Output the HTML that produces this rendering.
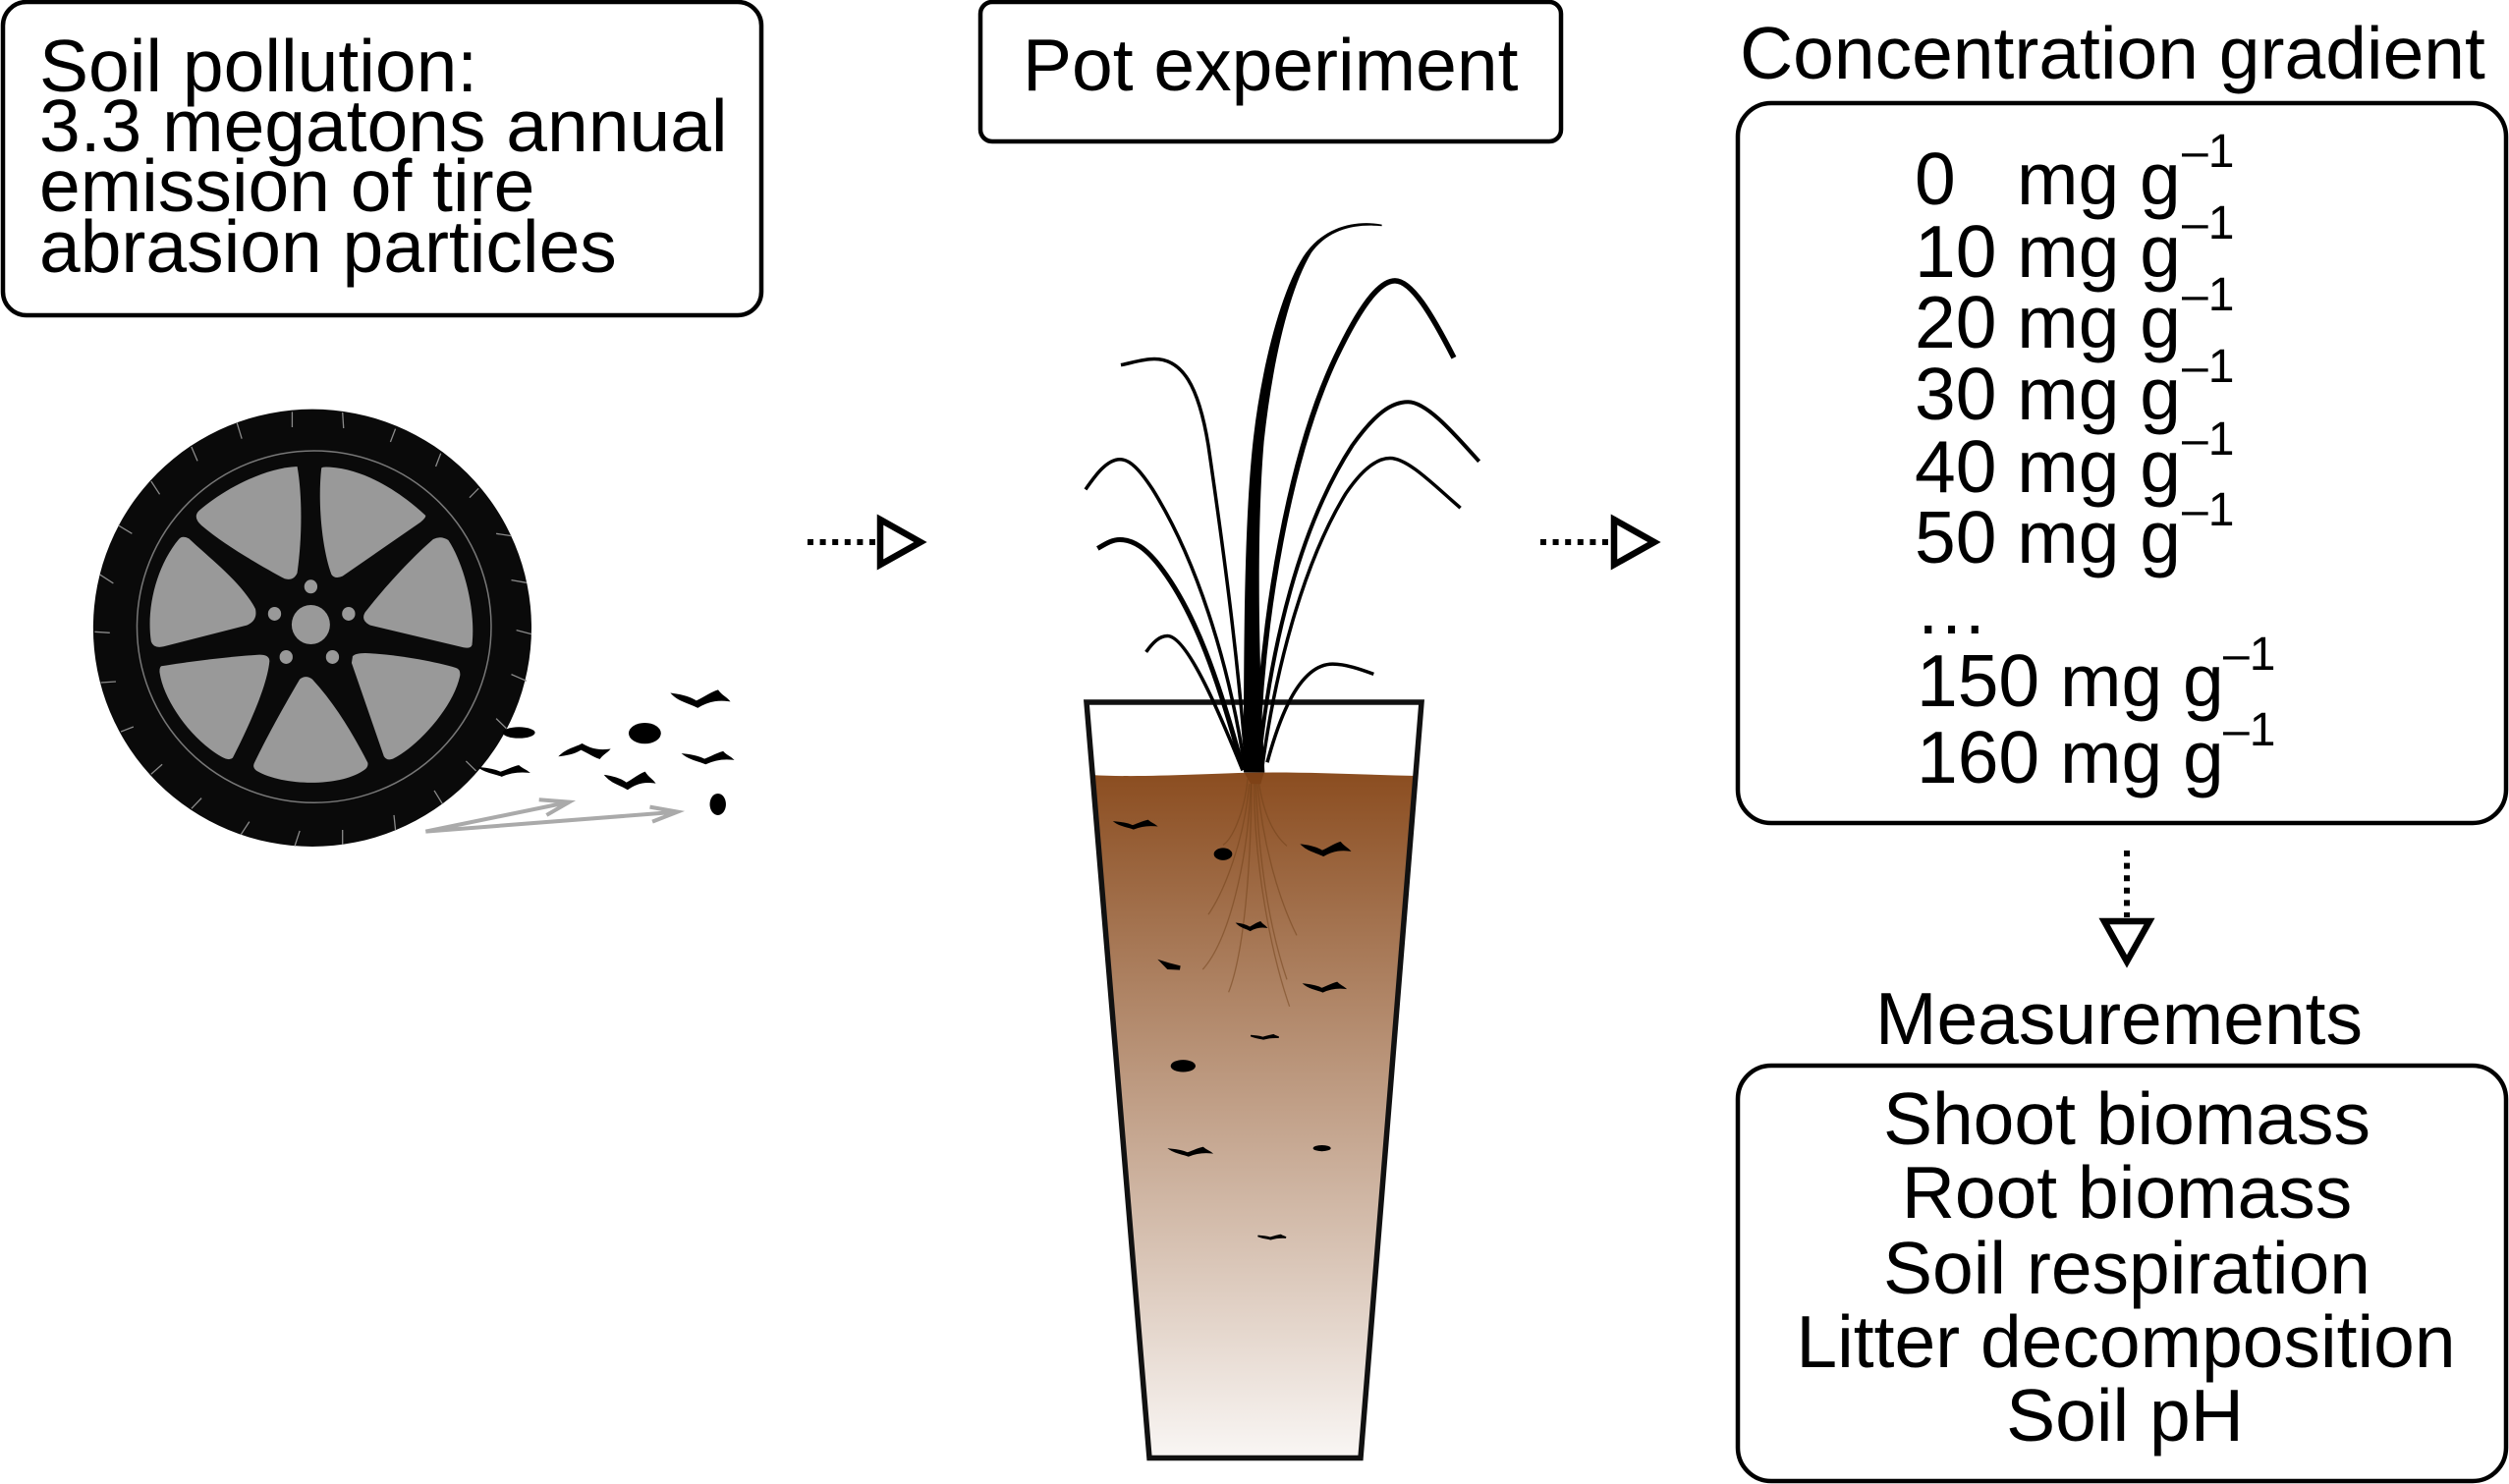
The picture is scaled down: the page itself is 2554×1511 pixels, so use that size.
<!DOCTYPE html>
<html><head><meta charset="utf-8"><title>Tire abrasion particles pot experiment</title>
<style>html,body{margin:0;padding:0;background:#fff}svg{display:block}
text{font-family:"Liberation Sans",sans-serif;fill:#000;font-size:75px}
.s{font-size:48px}
.n{vector-effect:non-scaling-stroke;fill:none}
</style></head><body>
<svg xmlns="http://www.w3.org/2000/svg" width="2554" height="1511" viewBox="0 0 2554 1511">
<defs>
<linearGradient id="soil" x1="0" y1="0" x2="0" y2="1"><stop offset="0" stop-color="#8b4d20"/><stop offset="1" stop-color="#f9f6f4"/></linearGradient>
<path id="bat" stroke="#000" stroke-width="1.6" style="vector-effect:non-scaling-stroke" d="M-55,-15 C-40,-12 -20,-5 -8,8 C5,0 20,-18 35,-25 C42,-10 50,-5 56,5 C40,2 20,2 -5,25 C-20,12 -40,8 -55,-15Z"/>
</defs>

<!-- boxes -->
<g fill="none" stroke="#000" stroke-width="4.5">
<rect x="3" y="2" width="772" height="319" rx="24"/>
<rect x="998" y="2" width="591" height="142" rx="12"/>
<rect x="1769" y="105" width="782" height="733" rx="34"/>
<rect x="1769" y="1085" width="782" height="423" rx="34"/>
</g>

<!-- box text -->
<text x="40" y="93">Soil pollution:</text>
<text x="40" y="154">3.3 megatons annual</text>
<text x="40" y="215">emission of tire</text>
<text x="40" y="277">abrasion particles</text>
<text x="1041" y="92">Pot experiment</text>
<text x="1771" y="80">Concentration gradient</text>

<text x="1949" y="208">0</text><text x="2053" y="208">mg g</text><text class="s" x="2221" y="170">–1</text>
<text x="1949" y="282">10 mg g</text><text class="s" x="2221" y="243">–1</text>
<text x="1949" y="354">20 mg g</text><text class="s" x="2221" y="316">–1</text>
<text x="1949" y="427">30 mg g</text><text class="s" x="2221" y="389">–1</text>
<text x="1949" y="501">40 mg g</text><text class="s" x="2221" y="463">–1</text>
<text x="1949" y="573">50 mg g</text><text class="s" x="2221" y="535">–1</text>
<text x="1949" y="645">…</text>
<text x="1951" y="719">150 mg g</text><text class="s" x="2263" y="682">–1</text>
<text x="1951" y="797">160 mg g</text><text class="s" x="2263" y="759">–1</text>

<text x="2157" y="1063" text-anchor="middle">Measurements</text>
<text x="2165" y="1165" text-anchor="middle">Shoot biomass</text>
<text x="2165" y="1240" text-anchor="middle">Root biomass</text>
<text x="2165" y="1317" text-anchor="middle">Soil respiration</text>
<text x="2164" y="1392" text-anchor="middle">Litter decomposition</text>
<text x="2163" y="1467" text-anchor="middle">Soil pH</text>

<!-- dotted arrows -->
<g fill="none" stroke="#000" stroke-width="6">
<path d="M822,552H892" stroke-dasharray="6 6.6"/>
<path d="M1568,552H1640" stroke-dasharray="6 6.6"/>
<path d="M2165,866V934" stroke-dasharray="6 6.6"/>
</g>
<g fill="#fff" stroke="#000" stroke-width="6.5">
<path d="M896,529L937,552L896,575Z"/>
<path d="M1643,529L1684,552L1643,575Z"/>
<path d="M2142,938H2188L2165,979Z"/>
</g>

<!-- tire -->
<g transform="translate(0,380) scale(.5128,.3333)">
<ellipse cx="620" cy="778" rx="435" ry="668" fill="#0a0a0a"/>
<ellipse class="n" cx="623.5" cy="774.5" rx="351.5" ry="537.5" stroke="#777" stroke-width="1.5"/>
<g fill="#999">
<path d="M590,285 C598,350 602,480 590,610 Q583,635 565,628 C520,590 450,530 400,465 Q382,440 395,420 C440,360 520,290 590,285 Z"/>
<path d="M638,290 Q640,285 655,287 C730,295 800,370 845,435 Q845,442 835,455 L680,620 Q665,630 658,615 C640,540 630,400 638,290 Z"/>
<path d="M860,507 Q875,495 890,510 C920,580 945,720 937,830 Q935,842 920,838 L735,770 Q715,755 725,730 C765,650 820,560 860,507 Z"/>
<path d="M700,865 Q705,855 725,855 C790,860 860,880 905,900 Q915,905 913,925 C900,1020 830,1140 780,1178 Q768,1185 762,1170 L698,885 Z"/>
<path d="M595,935 Q607,920 620,935 C665,1010 700,1100 730,1190 Q732,1205 720,1215 C670,1265 560,1260 510,1215 Q500,1205 505,1190 C530,1110 570,1000 595,935 Z"/>
<path d="M320,895 C380,880 460,865 515,860 Q535,860 535,880 C530,960 490,1090 462,1175 Q455,1185 440,1172 C380,1120 325,1000 317,915 Q316,900 320,895 Z"/>
<path d="M355,507 Q362,495 375,505 C420,570 480,640 507,720 Q512,755 490,770 L325,835 Q305,842 300,820 C290,720 310,590 355,507 Z"/>
<ellipse cx="617" cy="768" rx="38" ry="60"/>
<ellipse cx="617" cy="652" rx="13" ry="21"/>
<ellipse cx="545" cy="735" rx="13" ry="21"/>
<ellipse cx="692" cy="735" rx="13" ry="21"/>
<ellipse cx="568" cy="867" rx="13" ry="21"/>
<ellipse cx="660" cy="867" rx="13" ry="21"/>
</g>
<path class="n" stroke="#8a8a8a" stroke-width="1.3" d="M580,118V165M680,120L682,168M470,150L480,200M785,170L775,210M380,225L392,268M875,245L865,285M300,330L317,370M950,352L932,380M235,465L262,490M985,490L1015,497M198,615L225,642M1015,632L1045,640M188,790L218,793M1025,785L1055,797M200,945L230,942M1015,920L1045,940M240,1095L265,1080M985,1055L1005,1085M300,1225L322,1195M925,1185L945,1215M380,1330L400,1298M862,1275L878,1315M478,1410L495,1370M782,1350L785,1395M585,1445L595,1398M680,1395V1440"/>
<!-- particles -->
<use href="#bat" transform="translate(1390,995)"/>
<ellipse cx="1280" cy="1100" rx="32" ry="32"/>
<use href="#bat" transform="translate(1160,1155) scale(.86,-.85)"/>
<use href="#bat" transform="translate(1405,1175) scale(.86,.7)"/>
<use href="#bat" transform="translate(1250,1245) scale(.86,1)"/>
<use href="#bat" transform="translate(1000,1215) scale(.85,.6)"/>
<ellipse cx="1030" cy="1098" rx="32" ry="17"/>
<ellipse cx="1425" cy="1317" rx="16" ry="33"/>
<path class="n" stroke="#aaa" stroke-width="4" d="M845,1400L1130,1310M1070,1303L1130,1310L1085,1350M845,1400L1345,1340M1290,1325L1345,1340L1295,1370"/>
</g>

<!-- soil, pot -->
<g transform="translate(1090,700) scale(.3333,.5172)">
<path d="M62,172 C200,178 400,170 530,168 C700,165 900,172 1058,174 L885,1515 L238,1515Z" fill="url(#soil)"/>
<path d="M530,168H590L580,190H550Z" fill="#7a3f14" opacity=".8"/>
<g stroke="#6f3f18" stroke-opacity=".5" stroke-width="1.3" fill="none">
<path class="n" d="M540,180 C530,250 490,300 465,310"/>
<path class="n" d="M545,190 C530,300 470,400 420,447"/>
<path class="n" d="M550,190 C540,350 480,500 403,555"/>
<path class="n" d="M552,190 C550,350 530,520 482,600"/>
<path class="n" d="M560,190 C560,350 610,520 668,628"/>
<path class="n" d="M565,190 C575,350 610,480 660,575"/>
<path class="n" d="M570,190 C585,300 630,410 690,488"/>
<path class="n" d="M575,190 C590,250 620,290 660,312"/>
</g>
<use href="#bat" transform="translate(197,270) scale(1.09,.32)"/>
<ellipse cx="465" cy="328" rx="28" ry="12"/>
<use href="#bat" transform="translate(778,318) scale(1.29,.52)"/>
<use href="#bat" transform="translate(552,470) scale(.77,.32)"/>
<path d="M265,535 L300,542 L335,548 L333,556 L295,555 Z"/>
<use href="#bat" transform="translate(775,590) scale(1.09,.36)"/>
<use href="#bat" transform="translate(592,688) scale(.77,.16)"/>
<ellipse cx="343" cy="745" rx="38" ry="12"/>
<use href="#bat" transform="translate(365,914) scale(1.11,.32)"/>
<ellipse cx="767" cy="907" rx="27" ry="6"/>
<use href="#bat" transform="translate(614,1082) scale(.77,.16)"/>
</g>
<path d="M1106,715H1447L1385,1484.5H1170Z" fill="none" stroke="#111" stroke-width="5.5"/>

<!-- plant -->
<g transform="translate(1060,200) scale(.3333,.4087)">
<path d="M618,1435 C618,1100 620,800 648,600 C672,430 730,240 800,150 C860,75 960,58 1040,70 L1040,74 C960,68 880,80 825,140 C755,235 705,420 680,610 C660,800 660,1100 682,1435 Z"/>
<g stroke="#000" fill="none">
<path class="n" stroke-width="5.5" d="M660,1410 C670,1050 760,640 900,400 C970,280 1030,210 1080,210 C1130,210 1190,290 1260,402"/>
<path class="n" stroke-width="4" d="M665,1410 C700,1120 790,820 950,620 C1020,540 1070,512 1120,512 C1180,512 1270,600 1337,660"/>
<path class="n" stroke-width="3.5" d="M675,1420 C720,1150 810,900 930,740 C980,680 1025,652 1065,652 C1120,652 1200,720 1280,776"/>
<path class="n" stroke-width="3.5" d="M690,1410 C720,1320 780,1165 890,1165 C930,1165 975,1178 1015,1190"/>
<path class="n" stroke-width="3.5" d="M625,1410 C600,1150 560,900 510,620 C480,470 430,405 345,405 C310,405 275,415 243,420"/>
<path class="n" stroke-width="3.5" d="M620,1415 C570,1150 470,900 340,730 C300,680 270,655 240,655 C200,655 165,695 135,730"/>
<path class="n" stroke-width="5" d="M615,1425 C540,1200 470,1040 370,930 C320,875 280,855 240,855 C215,855 195,866 172,877"/>
<path class="n" stroke-width="3.5" d="M615,1430 C560,1320 450,1095 385,1095 C360,1095 340,1112 320,1135"/>
</g>
</g>
</svg>
</body></html>
